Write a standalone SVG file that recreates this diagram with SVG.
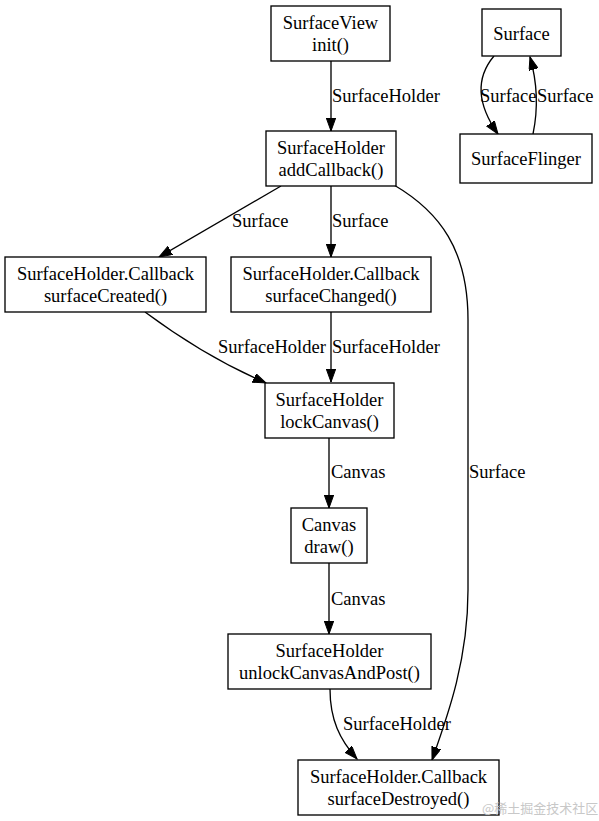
<svg xmlns="http://www.w3.org/2000/svg" width="599" height="821" viewBox="0 0 599 821">
<style>
.box{fill:#fff;stroke:#000;stroke-width:1.33}
text{font-family:"Liberation Serif","Times New Roman",serif;font-size:18.5px;fill:#000}
.c{text-anchor:middle}
.e{fill:none;stroke:#000;stroke-width:1.33;marker-end:url(#ah)}
.wm{font-family:"Noto Sans CJK SC",sans-serif;font-size:13px;fill:#c8c8c8}
</style>
<defs>
<marker id="ah" markerUnits="userSpaceOnUse" markerWidth="14" markerHeight="10" refX="13" refY="4.7" orient="auto">
<path d="M0,0 L13,4.7 L0,9.4 z" fill="#000" stroke="#000"/>
</marker>
</defs>
<rect width="599" height="821" fill="#fff"/>
<g id="edges">
<path class="e" d="M331,61 L331,131"/>
<path class="e" d="M281,186 L159,257"/>
<path class="e" d="M331,186 L331,257"/>
<path class="e" d="M394,185 C440,212 468,250 468,320 L468,590 C468,660 448,715 432,760"/>
<path class="e" d="M145,312 C180,338 222,364 266,383"/>
<path class="e" d="M331,312 L331,382"/>
<path class="e" d="M329,438 L329,508"/>
<path class="e" d="M329,563 L329,634"/>
<path class="e" d="M330,689 C330,720 340,740 357,759"/>
<path class="e" d="M494,56 C478,75 474,100 498,134"/>
<path class="e" d="M533,134 C538,110 538,85 530,57"/>
</g>
<g id="edge-labels">
<text x="332" y="102">SurfaceHolder</text>
<text x="232" y="227">Surface</text>
<text x="332" y="227">Surface</text>
<text x="218" y="353">SurfaceHolder</text>
<text x="332" y="353">SurfaceHolder</text>
<text x="331" y="478">Canvas</text>
<text x="469" y="478">Surface</text>
<text x="331" y="605">Canvas</text>
<text x="343" y="730">SurfaceHolder</text>
<text x="480" y="102">Surface</text>
<text x="537" y="102">Surface</text>
</g>
<g id="n-surfaceview"><rect class="box" x="271" y="6" width="119" height="55"/><text class="c" x="330.5" y="29">SurfaceView</text><text class="c" x="330.5" y="51">init()</text></g>
<g id="n-surface"><rect class="box" x="482" y="9" width="79" height="47"/><text class="c" x="521.5" y="39.5">Surface</text></g>
<g id="n-surfaceflinger"><rect class="box" x="460" y="134" width="132" height="49"/><text class="c" x="526" y="165">SurfaceFlinger</text></g>
<g id="n-addcallback"><rect class="box" x="266" y="131" width="130" height="55"/><text class="c" x="331" y="154">SurfaceHolder</text><text class="c" x="331" y="176">addCallback()</text></g>
<g id="n-created"><rect class="box" x="5" y="257" width="201" height="55"/><text class="c" x="105.5" y="280">SurfaceHolder.Callback</text><text class="c" x="105.5" y="302">surfaceCreated()</text></g>
<g id="n-changed"><rect class="box" x="231" y="257" width="200" height="55"/><text class="c" x="331" y="280">SurfaceHolder.Callback</text><text class="c" x="331" y="302">surfaceChanged()</text></g>
<g id="n-lockcanvas"><rect class="box" x="265" y="383" width="129" height="55"/><text class="c" x="329.5" y="406">SurfaceHolder</text><text class="c" x="329.5" y="428">lockCanvas()</text></g>
<g id="n-draw"><rect class="box" x="291" y="508" width="76" height="55"/><text class="c" x="329" y="531">Canvas</text><text class="c" x="329" y="553">draw()</text></g>
<g id="n-unlock"><rect class="box" x="228" y="634" width="203" height="55"/><text class="c" x="329.5" y="657">SurfaceHolder</text><text class="c" x="329.5" y="679">unlockCanvasAndPost()</text></g>
<g id="n-destroyed"><rect class="box" x="298" y="760" width="201" height="55"/><text class="c" x="398.5" y="783">SurfaceHolder.Callback</text><text class="c" x="398.5" y="805">surfaceDestroyed()</text></g>
<text class="wm" x="482" y="813">@稀土掘金技术社区</text>
</svg>
